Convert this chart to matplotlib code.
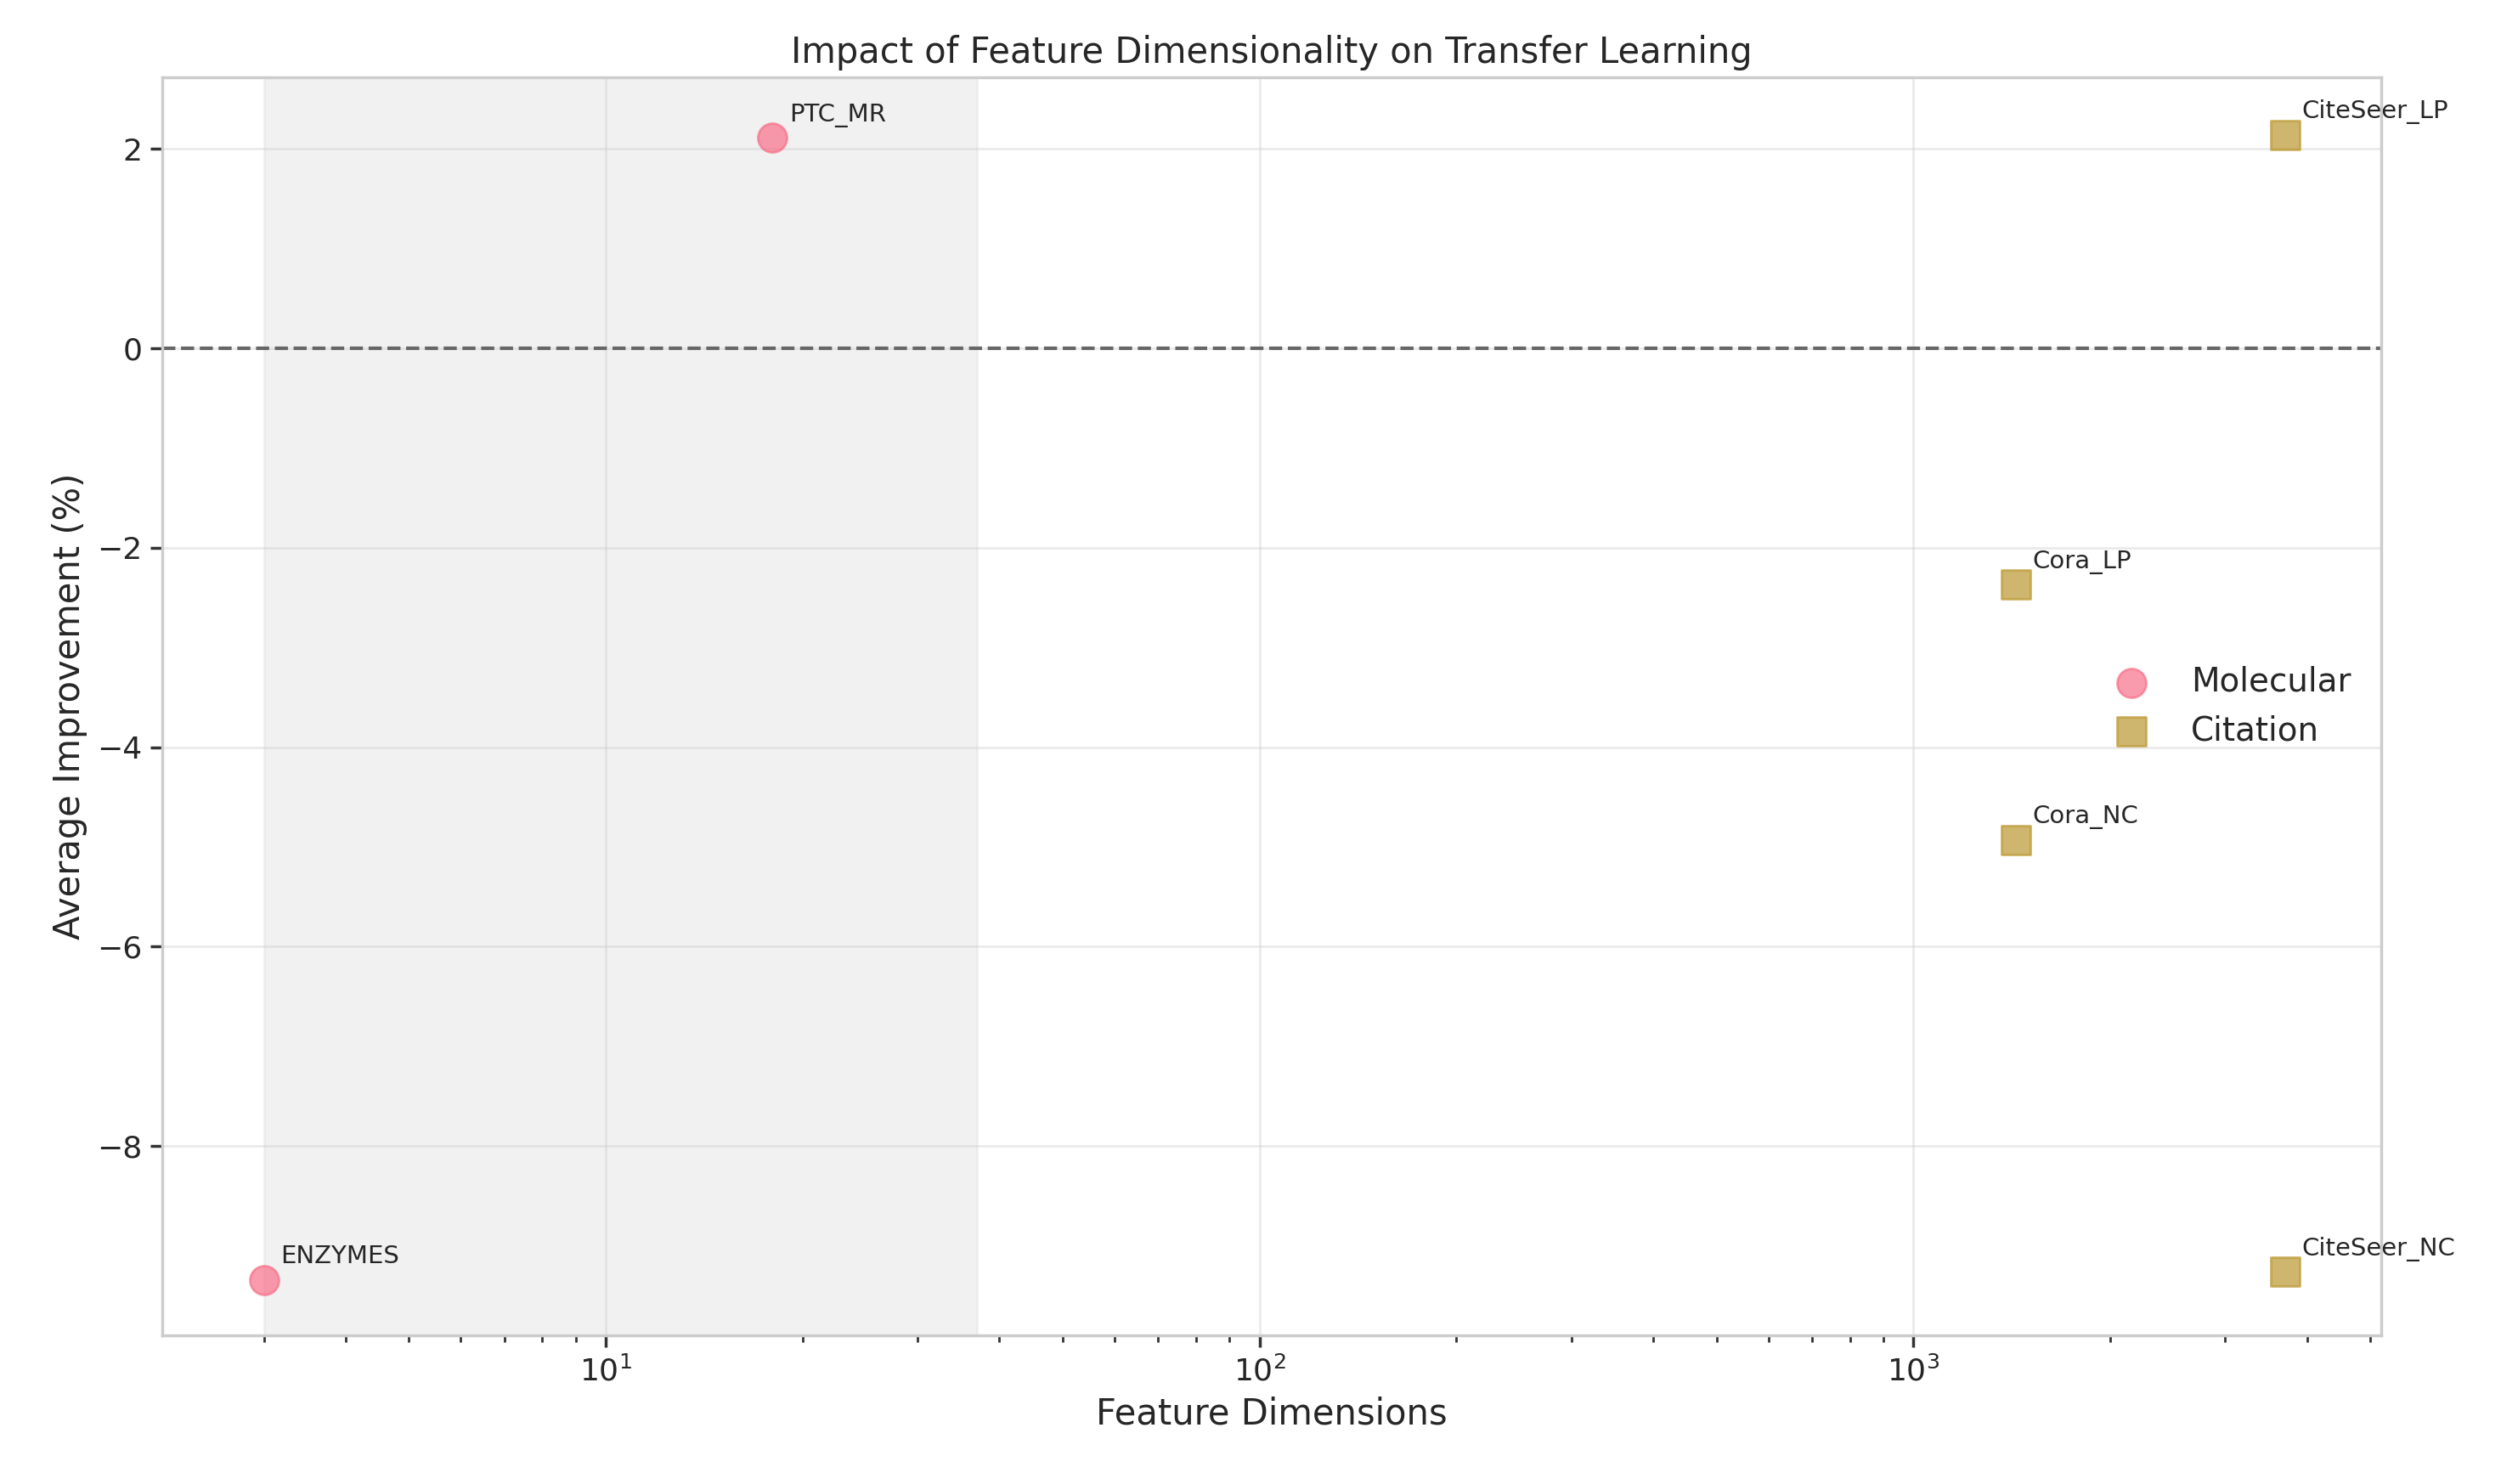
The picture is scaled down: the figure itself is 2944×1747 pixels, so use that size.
import matplotlib
matplotlib.use("Agg")
import matplotlib.pyplot as plt
import seaborn as sns

sns.set_theme(style="whitegrid")
sns.set_style("whitegrid", {"xtick.bottom": True, "ytick.left": True,
                            "axes.edgecolor": "#cccccc"})
pal = sns.color_palette("husl", 6)

mol_names = ["ENZYMES", "PTC_MR"]
mol_dims = [3, 18]
mol_impr = [-9.34, 2.11]

cit_names = ["Cora_LP", "Cora_NC", "CiteSeer_LP", "CiteSeer_NC"]
cit_dims = [1433, 1433, 3703, 3703]
cit_impr = [-2.37, -4.93, 2.14, -9.26]

fig, ax = plt.subplots(figsize=(14.72, 8.735), dpi=200)
fig.subplots_adjust(left=0.065, right=0.952, top=0.948, bottom=0.1)

ax.axvspan(3, 37, color="#dddddd", alpha=0.4, zorder=0)
ax.axhline(0, color="#666666", linestyle="--", linewidth=1.5)

ax.scatter(mol_dims, mol_impr, s=150, marker="o", color=pal[0], alpha=0.7, label="Molecular", zorder=3)
ax.scatter(cit_dims, cit_impr, s=150, marker="s", color=pal[1], alpha=0.7, label="Citation", zorder=3)

for n, x, y in zip(mol_names + cit_names, mol_dims + cit_dims, mol_impr + cit_impr):
    ax.annotate(n, (x, y), xytext=(7, 7), textcoords="offset points", fontsize=10.5)

ax.set_xscale("log")
ax.set_xlim(2.1, 5190)
ax.set_ylim(-9.9, 2.72)
ax.tick_params(axis="x", which="minor", bottom=True, length=3, color="#333333")
ax.tick_params(axis="both", which="major", length=5, color="#333333", labelsize=13)
ax.grid(True, which="major", alpha=0.4)
ax.set_xlabel("Feature Dimensions", fontsize=15)
ax.set_ylabel("Average Improvement (%)", fontsize=15)
ax.set_title("Impact of Feature Dimensionality on Transfer Learning", fontsize=15)
ax.legend(loc="center right", frameon=False, fontsize=14)

fig.savefig("out.png", dpi=200)
